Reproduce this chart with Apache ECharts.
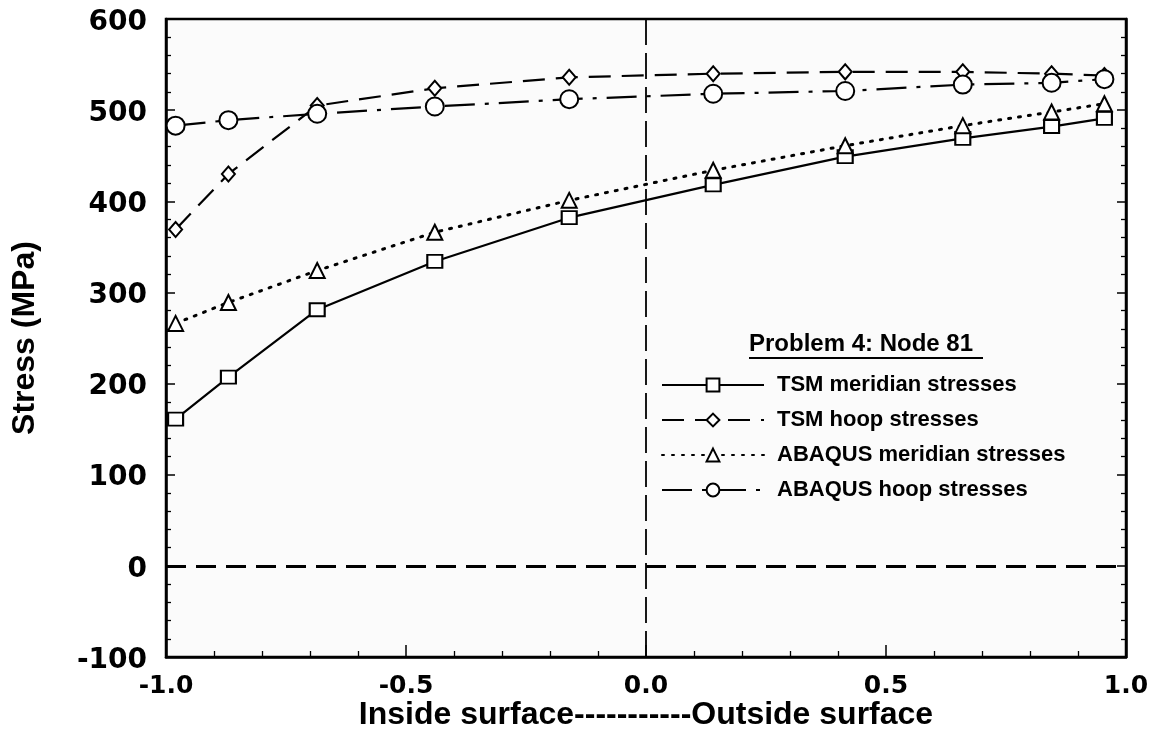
<!DOCTYPE html>
<html>
<head>
<meta charset="utf-8">
<script src="https://cdn.jsdelivr.net/npm/echarts@6/dist/echarts.min.js"></script>
<style>
html,body{margin:0;padding:0;background:#fff;}
#chart{width:1149px;height:733px;}
</style>
</head>
<body>
<div id="chart"></div>
<script>
// Through-thickness position (-1 inside surface ... 1 outside surface)
const positions = [-0.98, -0.87, -0.685, -0.44, -0.16, 0.14, 0.415, 0.66, 0.845, 0.955];
const tsmMeridian = [161, 207, 281, 334, 382, 418, 449, 469, 482, 491];
const tsmHoop = [369, 430, 505, 524, 536, 540, 542, 542, 540, 538];
const abaqusMeridian = [266, 289, 324, 366, 401, 434, 461, 483, 498, 507];
const abaqusHoop = [483, 489, 496, 504, 512, 518, 521, 528, 530, 534];
const seriesNames = ['TSM meridian stresses', 'TSM hoop stresses', 'ABAQUS meridian stresses', 'ABAQUS hoop stresses'];
const xTickLabels = ['-1.0', '-0.5', '0.0', '0.5', '1.0'];
const zeroStress = 0;
const midSurface = 0;
const legendTitle = 'Problem 4: Node 81';
const xTitle = 'Inside surface-----------Outside surface';
const yTitle = 'Stress (MPa)';

const FONT = '"Liberation Sans", Arial, Helvetica, sans-serif';
const WIDE = '"DejaVu Sans", "Liberation Sans", sans-serif';
const pair = arr => positions.map((x, i) => [x, arr[i]]);

const chart = echarts.init(document.getElementById('chart'), null, {renderer: 'canvas'});

function mk(name, data, symbol, size, lineType, width, cap) {
  return {
    name: name,
    type: 'line',
    data: pair(data),
    symbol: symbol,
    symbolSize: size,
    showAllSymbol: true,
    z: 3,
    lineStyle: {color: '#000', width: width, type: lineType, cap: cap || 'butt'},
    itemStyle: {color: '#fff', borderColor: '#000', borderWidth: 2},
    emphasis: {disabled: true},
    animation: false
  };
}

const series = [
  mk(seriesNames[0], tsmMeridian, 'rect', [15, 13], 'solid', 2.2),
  mk(seriesNames[1], tsmHoop, 'diamond', [13, 15], [22, 11], 2.2),
  mk(seriesNames[2], abaqusMeridian, 'triangle', 15, [2, 8], 3, 'round'),
  mk(seriesNames[3], abaqusHoop, 'circle', 18, [30, 10, 4, 10], 2.2)
];
// reference lines (zero stress, mid-surface)
series.push({
  type: 'line', data: [], silent: true, animation: false,
  markLine: {
    silent: true, symbol: 'none', label: {show: false}, animation: false,
    data: [
      {yAxis: zeroStress, lineStyle: {color: '#000', width: 2.8, type: [20, 10]}},
      {xAxis: midSurface, lineStyle: {color: '#000', width: 1.8, type: [26, 8]}}
    ]
  }
});

const tickStyle = {color: '#000', width: 1.5};
const option = {
  backgroundColor: '#fff',
  animation: false,
  grid: {left: 166, right: 23, top: 19, bottom: 76, containLabel: false, outerBoundsMode: 'none',
         show: true, borderColor: '#000', borderWidth: 2.5, backgroundColor: '#fbfbfb'},
  xAxis: {
    type: 'value', min: -1, max: 1, interval: 0.5,
    axisLine: {onZero: false, lineStyle: {color: '#000', width: 2.5}},
    axisTick: {inside: true, length: 12, lineStyle: tickStyle},
    minorTick: {show: true, splitNumber: 5, length: 6, lineStyle: {color: '#000', width: 1.3}},
    splitLine: {show: false},
    axisLabel: {
      color: '#000', fontFamily: WIDE, fontWeight: 'bold', fontSize: 25, margin: 17,
      formatter: v => xTickLabels[Math.round((v + 1) / 0.5)]
    },
    name: xTitle, nameLocation: 'middle', nameGap: 42, nameMoveOverlap: false,
    nameTextStyle: {color: '#000', fontFamily: FONT, fontWeight: 'bold', fontSize: 32}
  },
  yAxis: [{
    type: 'value', min: -100, max: 600, interval: 100,
    axisLine: {onZero: false, lineStyle: {color: '#000', width: 2.5}},
    axisTick: {inside: true, length: 9, lineStyle: tickStyle},
    minorTick: {show: true, splitNumber: 5, length: 5, lineStyle: {color: '#000', width: 1.3}},
    splitLine: {show: false},
    axisLabel: {
      color: '#000', fontFamily: WIDE, fontWeight: 'bold', fontSize: 28, margin: 19,
      formatter: v => '{a|' + v + '}',
      rich: {a: {fontFamily: WIDE, fontWeight: 'bold', fontSize: 28, color: '#000', padding: [7, 0, 0, 0]}}
    },
    name: yTitle, nameLocation: 'middle', nameGap: 125, nameRotate: 90, nameMoveOverlap: false,
    nameTextStyle: {color: '#000', fontFamily: FONT, fontWeight: 'bold', fontSize: 32}
  }, {
    type: 'value', min: -100, max: 600, interval: 100, position: 'right',
    axisLine: {show: true, onZero: false, lineStyle: {color: '#000', width: 2.5}},
    axisTick: {inside: true, length: 9, lineStyle: tickStyle},
    minorTick: {show: true, splitNumber: 5, length: 5, lineStyle: {color: '#000', width: 1.3}},
    splitLine: {show: false},
    axisLabel: {show: false}
  }],
  legend: {
    data: seriesNames,
    orient: 'vertical',
    left: 656, top: 369,
    itemWidth: 102, itemHeight: 16, itemGap: 13,
    textStyle: {color: '#000', fontFamily: FONT, fontWeight: 'bold', fontSize: 22, padding: [0, 0, 0, 8]},
    selectedMode: false
  },
  graphic: [
    {type: 'text', left: 749, top: 332, z: 10,
     style: {text: legendTitle, fill: '#000', font: 'bold 24px ' + FONT}},
    {type: 'line', z: 10, shape: {x1: 749, y1: 358, x2: 983, y2: 358},
     style: {stroke: '#000', lineWidth: 2}}
  ],
  series: series
};
chart.setOption(option);
</script>
</body>
</html>
